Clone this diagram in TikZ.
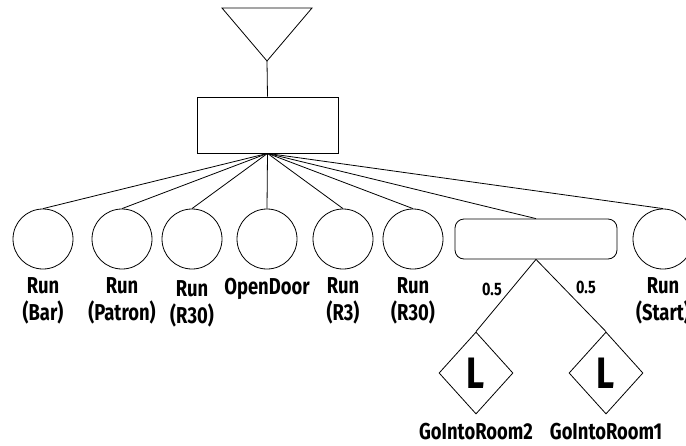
\documentclass[tikz,border=0pt]{standalone}
\usepackage{fontspec}
\setmainfont{Fira Sans}[FakeStretch=0.8]
\usetikzlibrary{positioning,shapes.geometric}

\tikzset{
  task/.style={draw,circle,minimum size=60pt,inner sep=0pt},
  tasklabel/.style={font=\bfseries\fontsize{23}{27}\selectfont,align=center,inner sep=0pt},
  prob/.style={font=\bfseries\fontsize{18}{18}\selectfont,inner sep=0pt},
  leaf/.style={draw,diamond,minimum width=74pt,minimum height=82pt,inner sep=0pt,
    font=\bfseries\fontsize{44}{44}\selectfont},
}

\begin{document}
\begin{tikzpicture}[x=1pt,y=-1pt,line width=0.8pt]
\clip (0,0) rectangle (686,445);
% root marker
\draw (222,8) -- (312,8) -- (267,61) -- cycle;
\coordinate (apex) at (267,61);
\node[draw,minimum width=141pt,minimum height=56pt] (sel) at (267.5,125) {};
\draw (apex) -- (sel.north);
% children
\node[task] (bar) at (43,239) {};
\node[task] (patron) at (122,239) {};
\node[task] (ra) at (192,239) {};
\node[task] (door) at (267,239) {};
\node[task] (rb) at (343,239) {};
\node[task] (rc) at (413,239) {};
\node[draw,rounded corners=9pt,minimum width=162pt,minimum height=40pt] (rnd) at (536,239) {};
\node[task] (start) at (663,239) {};
\node[tasklabel,below=8pt of bar] {Run\\(Bar)};
\node[tasklabel,below=8pt of patron] {Run\\(Patron)};
\node[tasklabel,below=11pt of ra] {Run\\(R30)};
\node[tasklabel,below=8pt of door] {OpenDoor};
\node[tasklabel,below=8pt of rb] {Run\\(R3)};
\node[tasklabel,below=8pt of rc] {Run\\(R30)};
\node[tasklabel,below=8pt of start] {Run\\(Start)};
\foreach \c in {bar,patron,ra,door,rb,rc,rnd,start}
  \draw (sel.south) -- (\c.north);
% random choice
\node[leaf] (room2) at (476,373) {L};
\node[leaf] (room1) at (606,373) {L};
\draw (rnd.south) -- (room2.north);
\draw (rnd.south) -- (room1.north);
\node[prob] at (492,289) {0.5};
\node[prob] at (586,287) {0.5};
\node[tasklabel,below=8pt of room2] {GoIntoRoom2};
\node[tasklabel,below=8pt of room1] {GoIntoRoom1};
\end{tikzpicture}
\end{document}
